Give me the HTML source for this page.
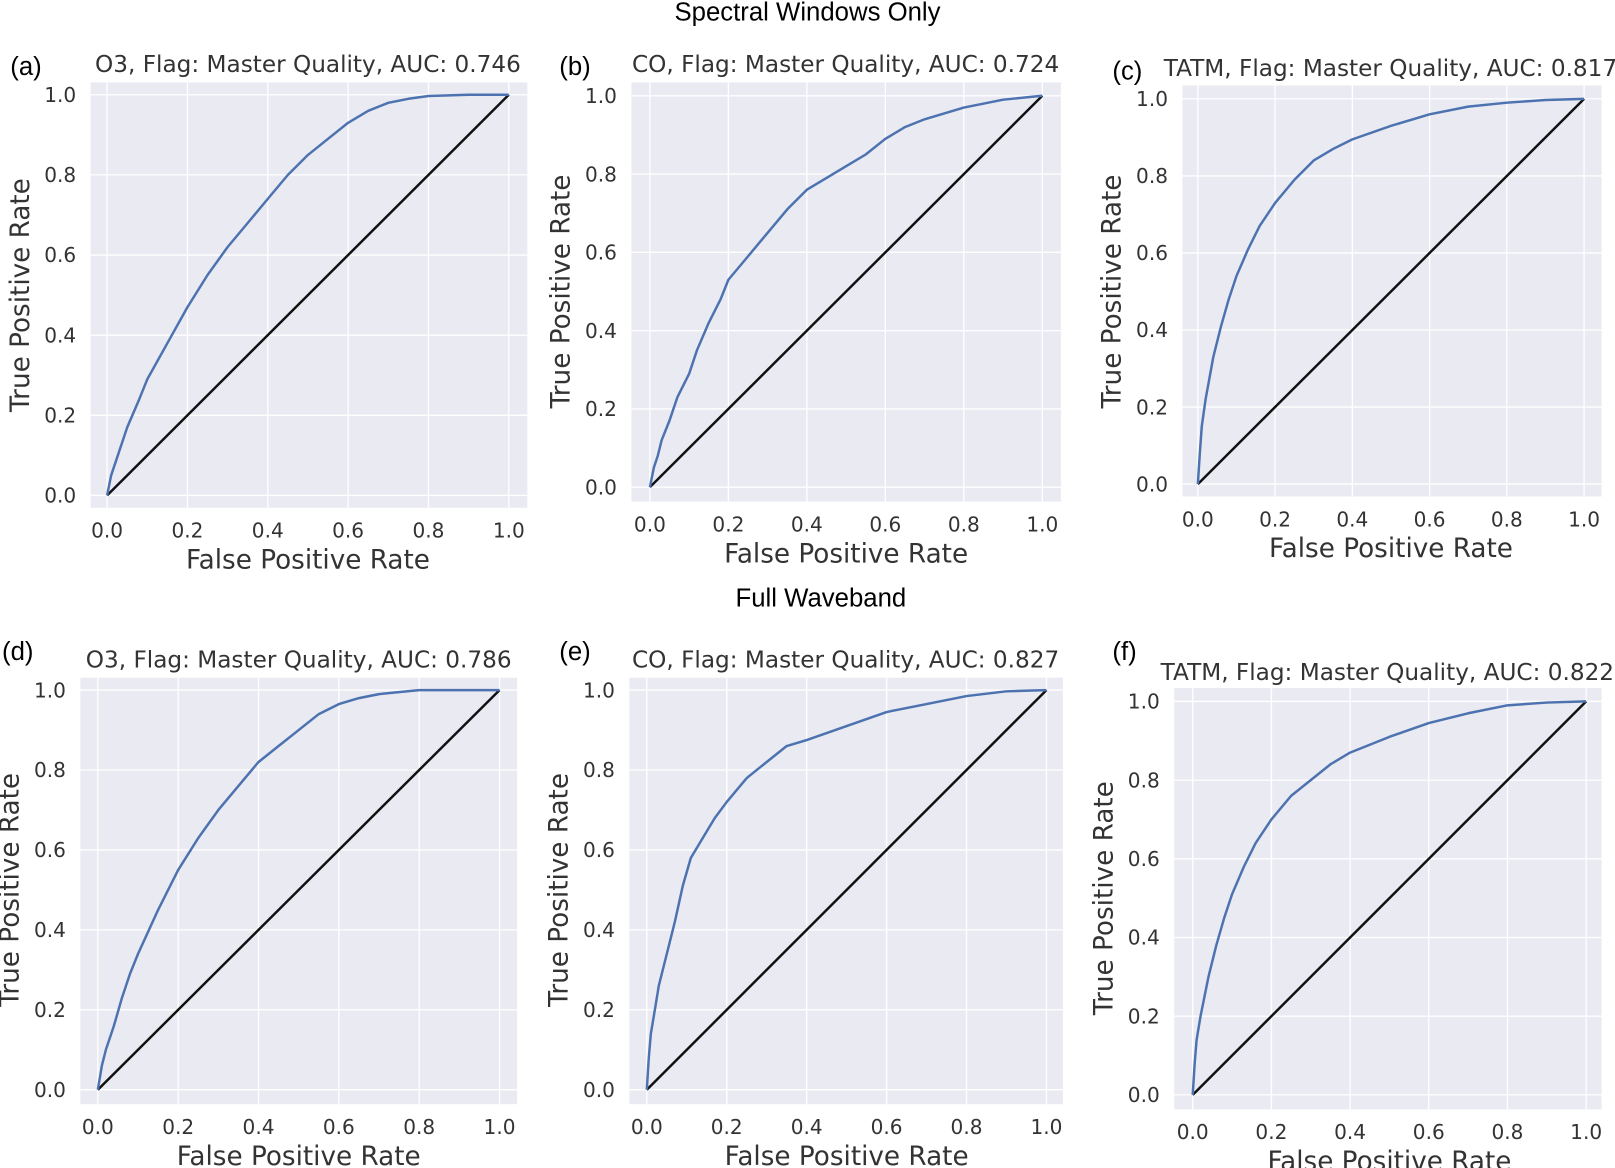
<!DOCTYPE html>
<html><head><meta charset="utf-8">
<style>
html,body{margin:0;padding:0;background:#fff;width:1615px;height:1168px;overflow:hidden}
svg{display:block}
.tick{font-family:"DejaVu Sans","Liberation Sans",sans-serif;font-size:19.5px;fill:#333}
.axl{font-family:"DejaVu Sans","Liberation Sans",sans-serif;font-size:25.5px;fill:#333}
.ttl{font-family:"DejaVu Sans","Liberation Sans",sans-serif;font-size:22.5px;fill:#333}
.sup{font-family:"Liberation Sans",sans-serif;font-size:25px;fill:#000}
.lab{font-family:"Liberation Sans",sans-serif;font-size:25px;fill:#000}
</style></head>
<body>
<svg id="fig" width="1615" height="1168" viewBox="0 0 1568 1134" preserveAspectRatio="none" xmlns="http://www.w3.org/2000/svg">
<text class="sup" x="784" y="20" text-anchor="middle">Spectral Windows Only</text>
<text class="sup" x="797" y="589" text-anchor="middle">Full Waveband</text>
</svg>
<script>
const tickVals = [0, 0.2, 0.4, 0.6, 0.8, 1.0];
const tickLabels = ["0.0", "0.2", "0.4", "0.6", "0.8", "1.0"];
const panelLetters = ["(a)", "(b)", "(c)", "(d)", "(e)", "(f)"];
const panelTitles = [
  "O3, Flag: Master Quality, AUC: 0.746",
  "CO, Flag: Master Quality, AUC: 0.724",
  "TATM, Flag: Master Quality, AUC: 0.817",
  "O3, Flag: Master Quality, AUC: 0.786",
  "CO, Flag: Master Quality, AUC: 0.827",
  "TATM, Flag: Master Quality, AUC: 0.822"
];
const fprA = [0,0.01,0.03,0.05,0.08,0.1,0.15,0.2,0.25,0.3,0.35,0.4,0.45,0.5,0.55,0.6,0.65,0.7,0.75,0.8,0.9,1];
const tprA = [0,0.05,0.11,0.17,0.24,0.29,0.38,0.47,0.55,0.62,0.68,0.74,0.8,0.85,0.89,0.93,0.96,0.98,0.99,0.997,1,1];
const fprB = [0,0.01,0.02,0.03,0.05,0.07,0.1,0.12,0.15,0.18,0.2,0.25,0.3,0.35,0.4,0.45,0.5,0.55,0.6,0.65,0.7,0.8,0.9,1];
const tprB = [0,0.05,0.08,0.12,0.17,0.23,0.29,0.35,0.42,0.48,0.53,0.59,0.65,0.71,0.76,0.79,0.82,0.85,0.89,0.92,0.94,0.97,0.99,1];
const fprC = [0,0.005,0.01,0.02,0.04,0.06,0.08,0.1,0.13,0.16,0.2,0.25,0.3,0.35,0.4,0.5,0.6,0.7,0.8,0.9,1];
const tprC = [0,0.08,0.15,0.22,0.33,0.41,0.48,0.54,0.61,0.67,0.73,0.79,0.84,0.87,0.895,0.93,0.96,0.98,0.99,0.997,1];
const fprD = [0,0.01,0.02,0.04,0.06,0.08,0.1,0.15,0.2,0.25,0.3,0.35,0.4,0.45,0.5,0.55,0.6,0.65,0.7,0.8,1];
const tprD = [0,0.06,0.1,0.16,0.23,0.29,0.34,0.45,0.55,0.63,0.7,0.76,0.82,0.86,0.9,0.94,0.965,0.98,0.99,1,1];
const fprE = [0,0.005,0.01,0.02,0.03,0.05,0.07,0.09,0.11,0.14,0.17,0.2,0.25,0.3,0.35,0.4,0.5,0.6,0.7,0.8,0.9,1];
const tprE = [0,0.08,0.14,0.2,0.26,0.34,0.42,0.51,0.58,0.63,0.68,0.72,0.78,0.82,0.86,0.875,0.91,0.945,0.965,0.985,0.997,1];
const fprF = [0,0.005,0.01,0.02,0.04,0.06,0.08,0.1,0.13,0.16,0.2,0.25,0.3,0.35,0.4,0.5,0.6,0.7,0.8,0.9,1];
const tprF = [0,0.08,0.14,0.2,0.3,0.38,0.45,0.51,0.58,0.64,0.7,0.76,0.8,0.84,0.87,0.91,0.945,0.97,0.99,0.997,1];
const fprs = [fprA, fprB, fprC, fprD, fprE, fprF];
const tprs = [tprA, tprB, tprC, tprD, tprE, tprF];

const layout = [
  {x0:104,x1:494,y0:481,y1:92,bx:88,bx2:512,by:80,by2:493,lx:10,ly:73,tx:299,ty:70},
  {x0:631,x1:1012,y0:473,y1:93,bx:613,bx2:1030,by:80,by2:487,lx:543,ly:73,tx:821,ty:70},
  {x0:1163,x1:1538,y0:470,y1:96,bx:1148,bx2:1555,by:83,by2:482,lx:1080,ly:77,tx:1350,ty:74},
  {x0:95,x1:485,y0:1058,y1:670,bx:78,bx2:502,by:658,by2:1072,lx:2,ly:641,tx:290,ty:648},
  {x0:628,x1:1016,y0:1058,y1:670,bx:611,bx2:1032,by:658,by2:1072,lx:543,ly:641,tx:821,ty:648},
  {x0:1158,x1:1540,y0:1063,y1:681,bx:1140,bx2:1555,by:668,by2:1077,lx:1080,ly:641,tx:1347,ty:660}
];
const NS = "http://www.w3.org/2000/svg";
const svg = document.getElementById("fig");
function mk(tag, attrs, parent){const e=document.createElementNS(NS,tag);for(const k in attrs)e.setAttribute(k,attrs[k]);(parent||svg).appendChild(e);return e;}

layout.forEach((L, i) => {
  const g = mk("g", {});
  
  
  const sx = v => L.x0 + v * (L.x1 - L.x0);
  const sy = v => L.y0 + v * (L.y1 - L.y0);
  const bg = mk("rect", {x:L.bx, y:L.by, width:L.bx2-L.bx, height:L.by2-L.by, fill:"#eaeaf2"}, g);
  
  
  tickVals.forEach((t, k) => {
    const gx = mk("line", {x1:sx(t), x2:sx(t), y1:L.by, y2:L.by2, stroke:"#fff", "stroke-width":1.3}, g);
    
    
    const gy = mk("line", {x1:L.bx, x2:L.bx2, y1:sy(t), y2:sy(t), stroke:"#fff", "stroke-width":1.3}, g);
    
    
    const xt = mk("text", {x:sx(t), y:L.by2 + 29, "text-anchor":"middle", class:"tick"}, g);
    xt.textContent = tickLabels[k];
    
    
    const yt = mk("text", {x:L.bx - 14, y:sy(t) + 7, "text-anchor":"end", class:"tick"}, g);
    yt.textContent = tickLabels[k];
    
    
  });
  const diag = mk("line", {x1:sx(0), y1:sy(0), x2:sx(1), y2:sy(1), stroke:"#111", "stroke-width":2.4}, g);
  
  
  const pts = fprs[i].map((f, k) => sx(f).toFixed(1) + "," + sy(tprs[i][k]).toFixed(1)).join(" ");
  const curve = mk("polyline", {points:pts, fill:"none", stroke:"#4c72b0", "stroke-width":2.4, "stroke-linejoin":"round"}, g);
  
  
  const title = mk("text", {x:L.tx, y:L.ty, "text-anchor":"middle", class:"ttl"}, g);
  title.textContent = panelTitles[i];
  
  
  const lab = mk("text", {x:L.lx, y:L.ly, class:"lab"}, g);
  lab.textContent = panelLetters[i];
  
  
  const xl = mk("text", {x:(sx(0)+sx(1))/2, y:L.by2 + 59, "text-anchor":"middle", class:"axl"}, g);
  xl.textContent = "False Positive Rate";
  
  
  const cy = (sy(0)+sy(1))/2, cx = L.bx - 60;
  const yl = mk("text", {x:cx, y:cy, "text-anchor":"middle", class:"axl", transform:"rotate(-90 "+cx+" "+cy+")"}, g);
  yl.textContent = "True Positive Rate";
  
  
});
</script>
</body></html>
